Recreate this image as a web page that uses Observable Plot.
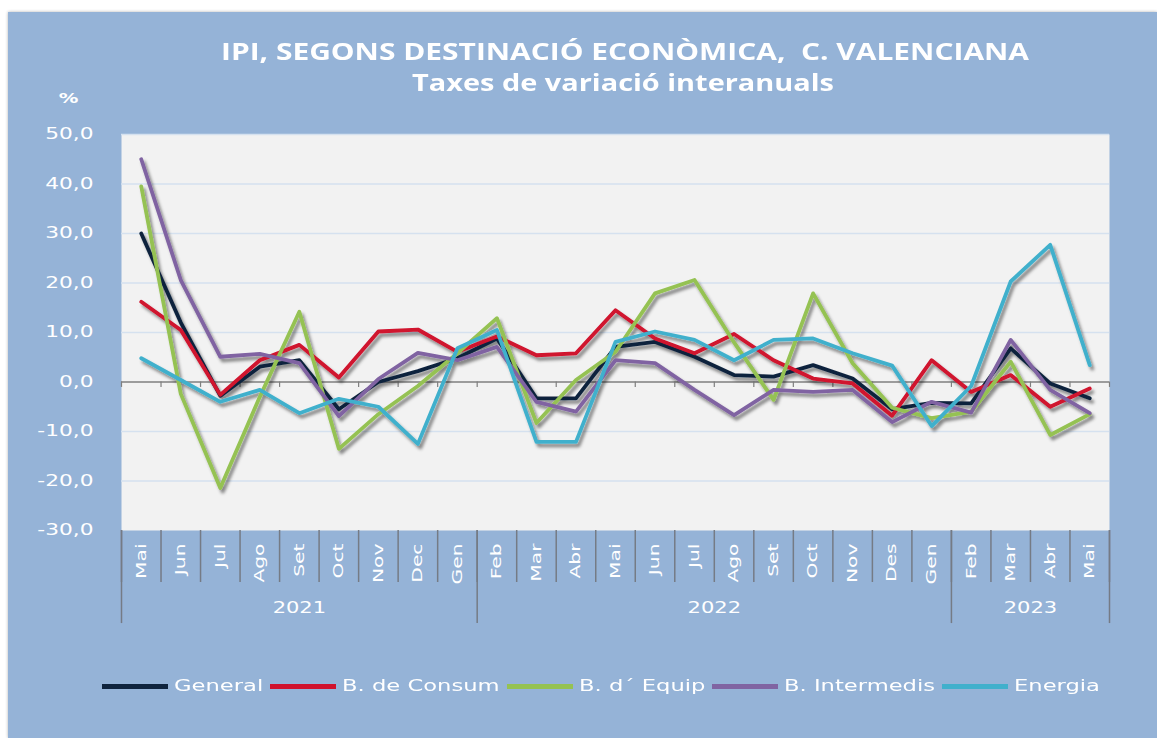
<!DOCTYPE html>
<html>
<head>
<meta charset="utf-8">
<script src="https://cdn.jsdelivr.net/npm/d3@7"></script>
<script src="https://cdn.jsdelivr.net/npm/@observablehq/plot@0.6"></script>
<style>
html,body{margin:0;padding:0;background:#fff;width:1157px;height:738px;overflow:hidden;font-family:"DejaVu Sans",sans-serif}
#panel{position:absolute;left:8px;top:12px;width:1149px;height:726px;background:#95b3d7;box-shadow:0 0 3px rgba(0,0,0,0.3)}
#chart{position:absolute;left:0;top:0}
.ttl{position:absolute;color:#fff;white-space:pre;font-family:"Open Sans",sans-serif;font-weight:700;font-size:23px;line-height:1;transform-origin:0 0}
#legend{position:absolute;left:102px;top:676px;height:20px;display:flex;align-items:center}
.sw{display:inline-block;width:66px;height:5px;margin-right:6px}
.lb{display:inline-block;color:#fff;font-family:"DejaVu Sans",sans-serif;font-size:15.5px;line-height:20px;white-space:pre;margin-right:7px;overflow:visible}
.lb span{display:inline-block;transform-origin:0 50%}
</style>
</head>
<body>
<div id="panel"></div>
<div id="t1" class="ttl">IPI, SEGONS DESTINACIÓ ECONÒMICA,  C. VALENCIANA</div>
<div id="t2" class="ttl">Taxes de variació interanuals</div>
<div id="chart"></div>
<div id="legend"></div>
<script>
// ---- data ----
const months = ["Mai","Jun","Jul","Ago","Set","Oct","Nov","Dec","Gen","Feb","Mar","Abr","Mai","Jun","Jul","Ago","Set","Oct","Nov","Des","Gen","Feb","Mar","Abr","Mai"];
const yearLabels = ["2021","2022","2023"];
const yearFirst = [0, 9, 21];
const yearLast = [8, 20, 24];
const series = ["General","B. de Consum","B. d´ Equip","B. Intermedis","Energia"];
const colors = ["#0f243e","#d0122d","#95c252","#8064a2","#41b0cc"];
const general    = [30.0, 12.0, -2.8, 3.1, 4.4, -5.5, 0.0, 2.2, 4.8, 8.8, -3.3, -3.3, 7.1, 8.1, 5.1, 1.4, 1.1, 3.4, 0.7, -5.5, -4.2, -4.3, 6.8, -0.3, -3.3];
const consum     = [16.2, 10.5, -2.6, 4.4, 7.5, 0.9, 10.2, 10.6, 6.1, 9.2, 5.4, 5.8, 14.5, 8.8, 5.8, 9.7, 4.4, 0.7, -0.3, -6.8, 4.4, -2.0, 1.4, -5.0, -1.3];
const equip      = [39.5, -2.4, -21.4, -3.0, 14.2, -13.5, -6.5, -0.8, 5.8, 12.9, -8.3, 0.4, 6.1, 17.9, 20.6, 8.0, -3.6, 17.9, 3.8, -5.2, -7.3, -6.0, 4.1, -10.7, -6.5];
const intermedis = [45.0, 20.6, 5.1, 5.7, 3.8, -6.9, 0.6, 5.9, 4.4, 7.1, -4.0, -6.0, 4.4, 3.8, -1.6, -6.7, -1.6, -2.0, -1.6, -8.1, -4.0, -6.2, 8.5, -1.6, -6.3];
const energia    = [4.8, 0.4, -4.0, -1.6, -6.3, -3.4, -5.0, -12.5, 6.8, 10.5, -12.1, -12.1, 8.1, 10.2, 8.5, 4.4, 8.5, 8.8, 5.8, 3.3, -8.9, -0.8, 20.3, 27.7, 3.4];
const yTicks = [50, 40, 30, 20, 10, 0, -10, -20, -30];

// ---- build ----
const values = [general, consum, equip, intermedis, energia];
const rows = series.flatMap((s, k) => values[k].map((v, i) => ({series: s, idx: i, val: v})));
const catBounds = d3.range(months.length + 1).map(i => i - 0.5);
const yearBounds = [yearFirst[0] - 0.5, ...yearLast.map(l => l + 0.5)];
const fmt = d => d.toFixed(1).replace(".", ",");

const chart = Plot.plot({
  width: 1157, height: 650,
  marginLeft: 121, marginRight: 48, marginTop: 134, marginBottom: 120,
  x: {type: "linear", domain: [-0.5, months.length - 0.5], axis: null},
  y: {type: "linear", domain: [-30, 50], axis: null},
  color: {type: "ordinal", domain: series, range: colors},
  style: {background: "transparent", color: "#fff", fontFamily: "DejaVu Sans, sans-serif", overflow: "visible"},
  marks: [
    Plot.frame({fill: "#f2f2f2", stroke: "none"}),
    Plot.ruleY(yTicks.filter(d => d !== 0 && d !== -30), {stroke: "#d5e1ef", strokeWidth: 1.3}),
    Plot.ruleY([0], {stroke: "#7f7f7f", strokeWidth: 1.6}),
    Plot.ruleX(catBounds, {y1: 0, y2: -1.1, stroke: "#7f7f7f", strokeWidth: 1.2}),
    Plot.line(rows, {x: "idx", y: "val", z: "series", stroke: "series", strokeWidth: 3.8, strokeLinejoin: "round"}),
    Plot.ruleX(catBounds, {y1: -30, y2: -40.5, stroke: "#757b85", strokeWidth: 1.5}),
    Plot.ruleX(yearBounds, {y1: -30, y2: -48.8, stroke: "#757b85", strokeWidth: 1.5}),
    Plot.text(months, {x: (d, i) => i, y: -30, dy: 13, text: d => d, rotate: -90, textAnchor: "end", fontSize: 13.5, fill: "#fff"}),
    Plot.text(yTicks, {x: -0.5, y: d => d, dx: -28, text: fmt, textAnchor: "end", fontSize: 15.5, fill: "#fff"}),
    Plot.text(yearLabels, {x: (d, k) => (yearFirst[k] + yearLast[k]) / 2, y: -30, dy: 78, text: d => d, fontSize: 15, fill: "#fff"}),
    Plot.text(["%"], {x: -0.5, y: 50, dx: -53, dy: -36, text: d => d, fontSize: 14, fontWeight: "bold", fill: "#fff"})
  ]
});
document.getElementById("chart").appendChild(chart);

// shadow filter for lines
const ns = "http://www.w3.org/2000/svg";
const defs = document.createElementNS(ns, "defs");
const filt = document.createElementNS(ns, "filter");
filt.setAttribute("id", "lshadow");
filt.setAttribute("filterUnits", "userSpaceOnUse");
filt.setAttribute("x", "0"); filt.setAttribute("y", "0");
filt.setAttribute("width", "1157"); filt.setAttribute("height", "650");
const ds = document.createElementNS(ns, "feDropShadow");
ds.setAttribute("dx", "2.5"); ds.setAttribute("dy", "3.5");
ds.setAttribute("stdDeviation", "1.8");
ds.setAttribute("flood-color", "#000");
ds.setAttribute("flood-opacity", "0.45");
filt.appendChild(ds);
defs.appendChild(filt);
chart.insertBefore(defs, chart.firstChild);
chart.querySelectorAll('g[aria-label="line"]').forEach(g => g.setAttribute("filter", "url(#lshadow)"));

// wide-font emulation on chart texts (x labels a bit wider)
const textGroups = chart.querySelectorAll('g[aria-label="text"]');
textGroups.forEach((g, gi) => {
  const K = gi === 0 ? 1.5 : 1.4;
  g.querySelectorAll("text").forEach(t => {
    const w = t.getComputedTextLength();
    t.setAttribute("textLength", w * K);
    t.setAttribute("lengthAdjust", "spacingAndGlyphs");
  });
});

// titles
function placeTitle(id, center, width, top) {
  const el = document.getElementById(id);
  const w = el.getBoundingClientRect().width;
  const s = width / w;
  el.style.top = top + "px";
  el.style.left = (center - width / 2) + "px";
  el.style.transform = `scaleX(${s})`;
}
placeTitle("t1", 625, 808, 40);
placeTitle("t2", 623, 422, 71);

// legend
const KL = 1.46;
const legend = document.getElementById("legend");
series.forEach((s, k) => {
  const sw = document.createElement("span");
  sw.className = "sw";
  sw.style.background = colors[k];
  legend.appendChild(sw);
  const lb = document.createElement("span");
  lb.className = "lb";
  const inner = document.createElement("span");
  inner.textContent = s;
  lb.appendChild(inner);
  legend.appendChild(lb);
  const w = inner.getBoundingClientRect().width;
  lb.style.width = (w * KL) + "px";
  inner.style.transform = `scaleX(${KL})`;
});
</script>
</body>
</html>
